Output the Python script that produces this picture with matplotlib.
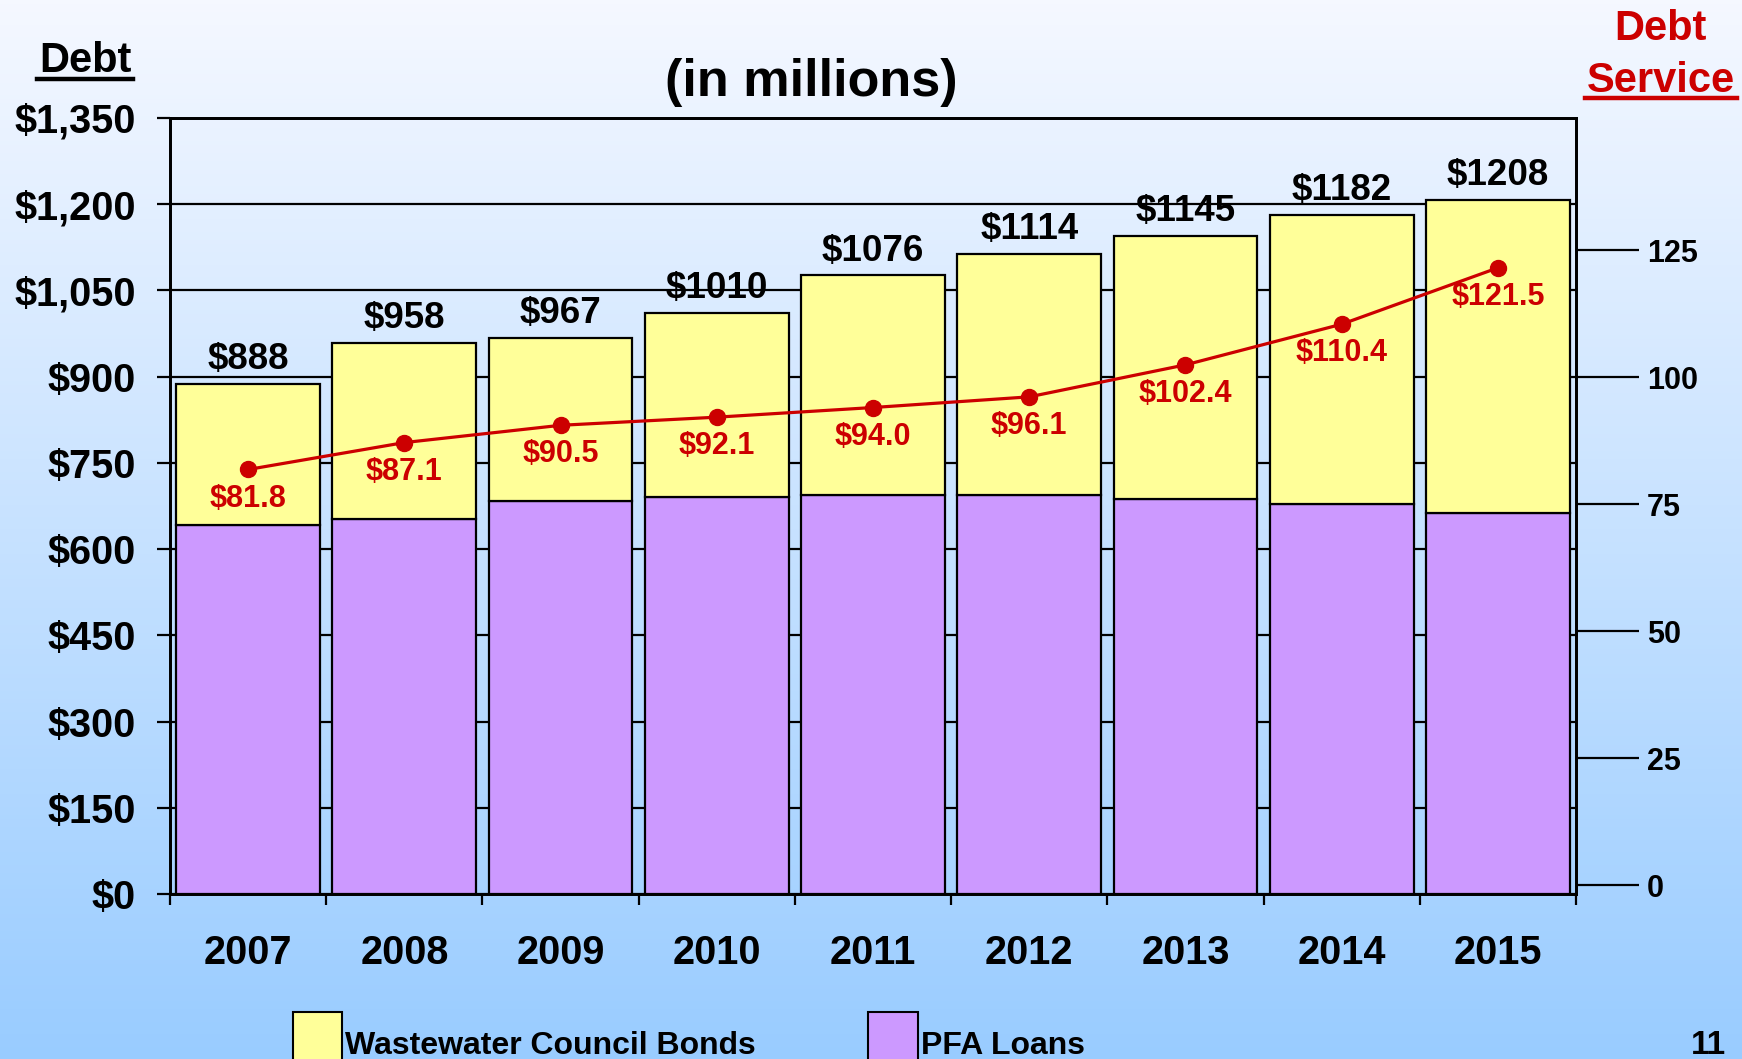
import numpy as np
import matplotlib
matplotlib.use("Agg")
import matplotlib.pyplot as plt
from matplotlib.patches import Rectangle
from matplotlib.lines import Line2D
from matplotlib.colors import LinearSegmentedColormap

plt.rcParams['font.family'] = ['Liberation Sans', 'DejaVu Sans']
plt.rcParams['font.weight'] = 'bold'

# data
years = ['2007', '2008', '2009', '2010', '2011', '2012', '2013', '2014', '2015']
total_debt = [888, 958, 967, 1010, 1076, 1114, 1145, 1182, 1208]
pfa_loans = [642, 652, 683, 690, 694, 694, 687, 679, 663]
debt_service = [81.8, 87.1, 90.5, 92.1, 94.0, 96.1, 102.4, 110.4, 121.5]
left_ticks = [0, 150, 300, 450, 600, 750, 900, 1050, 1200, 1350]
right_ticks = [0, 25, 50, 75, 100, 125]

bonds = [t - p for t, p in zip(total_debt, pfa_loans)]

YELLOW = '#FFFF99'
PURPLE = '#CC99FF'
RED = '#CC0000'

fig = plt.figure(figsize=(17.42, 10.59), dpi=100)

# background gradient
bg = fig.add_axes([0, 0, 1, 1], zorder=-10)
cmap = LinearSegmentedColormap.from_list('bg', ['#F5F8FF', '#99CCFF'])
grad = np.linspace(0, 1, 256).reshape(-1, 1)
bg.imshow(grad, aspect='auto', cmap=cmap, extent=[0, 1, 0, 1], origin='upper')
bg.axis('off')

ax = fig.add_axes([0.0976, 0.1558, 0.8071, 0.7328])
ax.set_facecolor('none')
x = np.arange(len(years))
w = 0.92

ax.bar(x, pfa_loans, width=w, color=PURPLE, edgecolor='black', linewidth=1.6, zorder=3)
ax.bar(x, bonds, width=w, bottom=pfa_loans, color=YELLOW, edgecolor='black',
       linewidth=1.6, zorder=3)

for xi, t in zip(x, total_debt):
    ax.annotate('$' + str(t), (xi, t), xytext=(0, 5), textcoords='offset points',
                ha='center', va='bottom', fontsize=26.5, fontweight='bold', zorder=5)

ax.set_xlim(-0.5, len(years) - 0.5)
ax.set_ylim(0, 1350)
ax.set_yticks(left_ticks)
ax.set_yticklabels(['${:,}'.format(v) for v in left_ticks])
ax.yaxis.grid(True, color='black', linewidth=1.6)
ax.set_axisbelow(True)
ax.tick_params(axis='y', direction='out', length=9.5, width=1.6, pad=15, labelsize=28.5)
ax.set_xticks(x)
ax.set_xticklabels(years)
ax.set_xticks(np.arange(len(years) + 1) - 0.5, minor=True)
ax.tick_params(axis='x', which='major', length=0, pad=29, labelsize=28.5)
ax.tick_params(axis='x', which='minor', direction='out', length=8, width=1.6)
for lab in ax.get_xticklabels() + ax.get_yticklabels():
    lab.set_fontweight('bold')
for s in ax.spines.values():
    s.set_linewidth(2)

# debt service line on right axis
ax2 = ax.twinx()
ax2.plot(x, debt_service, color=RED, linewidth=2.3, marker='o', markersize=11.5, zorder=6)
for xi, d in zip(x, debt_service):
    ax2.annotate('$%.1f' % d, (xi, d), xytext=(0, -21), textcoords='offset points',
                 ha='center', va='center', fontsize=22, fontweight='bold', color=RED)
ax2.set_ylim(-1.77, 151)
ax2.set_yticks(right_ticks)
ax2.tick_params(axis='y', direction='out', length=45, width=1.6, pad=6, labelsize=22)
for lab in ax2.get_yticklabels():
    lab.set_fontweight('bold')
for s in ax2.spines.values():
    s.set_linewidth(2)

# titles
fig.text(0.4656, 0.922, '(in millions)', ha='center', va='center', fontsize=37.5,
         fontweight='bold')
t1 = fig.text(0.0488, 0.932, 'Debt', ha='center', va='baseline', fontsize=30,
              fontweight='bold')
fig.text(0.9529, 0.9622, 'Debt', ha='center', va='baseline', fontsize=30,
         fontweight='bold', color=RED)
t2 = fig.text(0.9535, 0.9131, 'Service', ha='center', va='baseline', fontsize=30,
              fontweight='bold', color=RED)

renderer = fig.canvas.get_renderer()
W, H = fig.get_size_inches() * fig.dpi
for t, c, yline in [(t1, 'black', 0.9254), (t2, RED, 0.9075)]:
    bb = t.get_window_extent(renderer)
    fig.add_artist(Line2D([bb.x0 / W - 0.001, bb.x1 / W + 0.001], [yline, yline],
                          color=c, linewidth=3.2, transform=fig.transFigure))

# legend at bottom
fig.add_artist(Rectangle((0.1682, -0.03), 0.0281, 0.0744, facecolor=YELLOW,
                         edgecolor='black', linewidth=1.5, transform=fig.transFigure))
fig.text(0.198, 0.0047, 'Wastewater Council Bonds', ha='left', va='baseline',
         fontsize=23, fontweight='bold')
fig.add_artist(Rectangle((0.4983, -0.03), 0.0287, 0.0744, facecolor=PURPLE,
                         edgecolor='black', linewidth=1.5, transform=fig.transFigure))
fig.text(0.5287, 0.0047, 'PFA Loans', ha='left', va='baseline', fontsize=23,
         fontweight='bold')
fig.text(0.9707, 0.0047, '11', ha='left', va='baseline', fontsize=24, fontweight='bold')

fig.savefig('out.png', dpi=100)
